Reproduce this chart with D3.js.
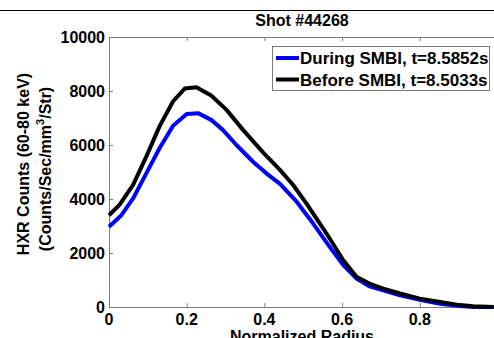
<!DOCTYPE html>
<html>
<head>
<meta charset="utf-8">
<script src="https://cdn.jsdelivr.net/npm/d3@7"></script>
<style>
  body { margin: 0; background: #fff; overflow: hidden; }
  svg text { font-family: "Liberation Sans", Arial, sans-serif; font-weight: bold; }
</style>
</head>
<body>
<script>
// values
var radius = [0, 0.027, 0.062, 0.096, 0.13, 0.165, 0.195, 0.225, 0.263, 0.302, 0.345, 0.397, 0.44, 0.474, 0.508, 0.56, 0.603, 0.637, 0.67, 0.706, 0.749, 0.8, 0.852, 0.903, 0.938, 0.99];
var before = [3400, 3780, 4520, 5570, 6690, 7620, 8090, 8140, 7830, 7310, 6560, 5720, 5080, 4520, 3840, 2720, 1730, 1120, 870, 680, 500, 310, 190, 70, 25, 0];

var radiusB = [0, 0.032, 0.062, 0.096, 0.13, 0.165, 0.2, 0.229, 0.263, 0.293, 0.328, 0.37, 0.405, 0.44, 0.483, 0.525, 0.568, 0.603, 0.637, 0.67, 0.706, 0.749, 0.8, 0.852, 0.903, 0.938, 0.99];
var during = [2970, 3400, 4020, 4950, 5880, 6710, 7150, 7180, 6930, 6560, 6000, 5390, 4950, 4560, 3900, 3100, 2230, 1550, 1050, 770, 620, 430, 270, 120, 40, 0, 0];

var xTicks = [0, 0.2, 0.4, 0.6, 0.8];
var yTicks = [0, 2000, 4000, 6000, 8000, 10000];
var seriesNames = ["During SMBI, t=8.5852s", "Before SMBI, t=8.5033s"];
var seriesColors = ["#0000ff", "#000000"];

var W = 494, H = 338,
    plotL = 109, plotT = 37, plotR = 497.5, plotB = 307;

var svg = d3.select("body").append("svg").attr("width", W).attr("height", H);

var x = d3.scaleLinear().domain([0, 1]).range([plotL, plotR]);
var y = d3.scaleLinear().domain([0, 10000]).range([plotB, plotT]);

// frame line of the page above the figure
svg.append("line").attr("x1", 0).attr("x2", W).attr("y1", 10.5).attr("y2", 10.5)
    .attr("stroke", "#000").attr("stroke-width", 1.2);

// plot box
svg.append("rect").attr("x", plotL + 0.5).attr("y", plotT + 0.5).attr("width", plotR - plotL).attr("height", plotB - plotT)
    .attr("fill", "none").attr("stroke", "#7a7a7a").attr("stroke-width", 1);

// inward ticks
var tickLen = 4;
xTicks.forEach(function(t) {
    svg.append("line").attr("x1", x(t) + 0.5).attr("x2", x(t) + 0.5).attr("y1", plotB).attr("y2", plotB - tickLen).attr("stroke", "#7a7a7a");
    svg.append("line").attr("x1", x(t) + 0.5).attr("x2", x(t) + 0.5).attr("y1", plotT).attr("y2", plotT + tickLen).attr("stroke", "#7a7a7a");
});
yTicks.forEach(function(t) {
    svg.append("line").attr("x1", plotL).attr("x2", plotL + tickLen).attr("y1", y(t) + 0.5).attr("y2", y(t) + 0.5).attr("stroke", "#7a7a7a");
});

// tick labels
svg.selectAll(".xl").data(xTicks).enter().append("text")
    .attr("x", function(d) { return x(d); }).attr("y", 325)
    .attr("text-anchor", "middle").attr("font-size", 16)
    .text(function(d) { return d === 0 ? "0" : d3.format(".1f")(d); });

svg.selectAll(".yl").data(yTicks).enter().append("text")
    .attr("x", plotL - 4).attr("y", function(d) { return y(d) + 5.5; })
    .attr("text-anchor", "end").attr("font-size", 16)
    .text(function(d) { return d; });

// curves
var line = d3.line();
function pts(xs, ys) { return xs.map(function(v, i) { return [x(v), y(ys[i])]; }); }

svg.append("path").attr("d", line(pts(radiusB, during)))
    .attr("fill", "none").attr("stroke", seriesColors[0]).attr("stroke-width", 4).attr("stroke-linejoin", "round");
svg.append("path").attr("d", line(pts(radius, before)))
    .attr("fill", "none").attr("stroke", seriesColors[1]).attr("stroke-width", 4).attr("stroke-linejoin", "round");

// title and axis labels
svg.append("text").attr("x", 302).attr("y", 26).attr("text-anchor", "middle").attr("font-size", 16).text("Shot #44268");
svg.append("text").attr("x", 302).attr("y", 342).attr("text-anchor", "middle").attr("font-size", 16).text("Normalized Radius");

var yl = svg.append("g").attr("transform", "translate(29,164) rotate(-90)");
yl.append("text").attr("text-anchor", "middle").attr("font-size", 16).text("HXR Counts (60-80 keV)");
var yl2 = svg.append("g").attr("transform", "translate(51,169) rotate(-90)");
var t2 = yl2.append("text").attr("text-anchor", "middle").attr("font-size", 16);
t2.append("tspan").text("(Counts/Sec/mm");
t2.append("tspan").attr("dy", -7).attr("font-size", 11).text("3");
t2.append("tspan").attr("dy", 7).text("/Str)");

// legend
var lg = svg.append("g");
lg.append("rect").attr("x", 272.5).attr("y", 46.5).attr("width", 217).attr("height", 44)
    .attr("fill", "#fff").attr("stroke", "#7a7a7a");
seriesNames.forEach(function(n, i) {
    var ly = 58 + i * 21.5;
    lg.append("line").attr("x1", 276).attr("x2", 299).attr("y1", ly).attr("y2", ly)
        .attr("stroke", seriesColors[i]).attr("stroke-width", 4);
    lg.append("text").attr("x", 300).attr("y", ly + 6).attr("font-size", 17).text(n);
});
</script>
</body>
</html>
